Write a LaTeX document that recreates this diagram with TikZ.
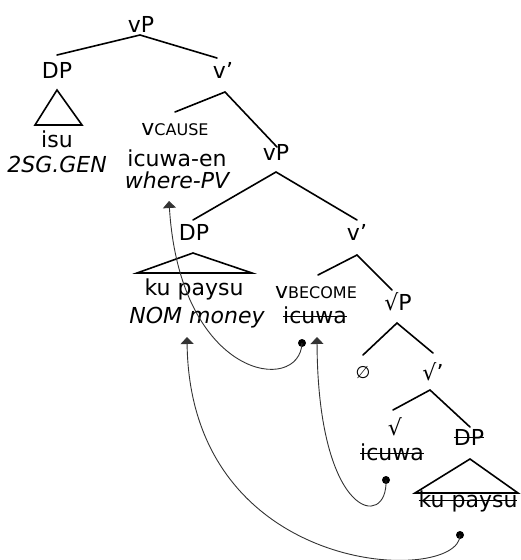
\documentclass[tikz,border=0pt]{standalone}
\usepackage{fontspec}
\setmainfont{DejaVu Sans}
\usetikzlibrary{arrows.meta}
\newcommand{\smcap}[1]{{\fontsize{16}{17}\selectfont #1}}
\newsavebox\strkbox
\newcommand{\strk}[2][0.27em]{\sbox\strkbox{#2}\rlap{\usebox\strkbox}\rule[#1]{\wd\strkbox}{1.2pt}}
\begin{document}
\begin{tikzpicture}[x=1pt,y=-1pt,
  lbl/.style={anchor=base,inner sep=0pt,font=\fontsize{22}{24}\selectfont},
  br/.style={line width=1.6pt,line cap=round},
  mv/.style={line width=0.9pt,draw=black!80,-{Triangle[width=13pt,length=7pt]}},
  dotm/.style={fill=black,circle,inner sep=0pt,minimum size=8pt}]
\useasboundingbox (0,0) rectangle (520,560);
% labels
\node[lbl] (vP1) at (141,32) {vP};
\node[lbl] (DP1) at (57,78) {DP};
\node[lbl] (vb1) at (223,78) {v'};
\node[lbl] (isu) at (57,147) {isu};
\node[lbl] (gen) at (57,172) {\itshape 2SG.GEN};
\node[lbl] (vcause) at (175,135) {v\smcap{CAUSE}};
\node[lbl] (icen) at (177,166) {icuwa-en};
\node[lbl] (where) at (177,188) {\itshape where-PV};
\node[lbl] (vP2) at (276,160) {vP};
\node[lbl] (DP2) at (194,240) {DP};
\node[lbl] (vb2) at (357,240) {v'};
\node[lbl] (kp1) at (194,295) {ku paysu};
\node[lbl] (nom) at (197,323) {\itshape NOM money};
\node[lbl] (vbec) at (316,298) {v\smcap{BECOME}};
\node[lbl] (ic1) at (315,323) {\strk{icuwa}};
\node[lbl] (rP) at (398,310) {√P};
\node[lbl,font=\fontsize{17}{20}\selectfont] (empty) at (363,378) {∅};
\node[lbl] (rb) at (433,380) {√'};
\node[lbl] (r) at (395,435) {√};
\node[lbl] (ic2) at (392,460) {\strk{icuwa}};
\node[lbl] (DP3) at (469,445) {\strk[0.33em]{DP}};
\node[lbl] (kp2) at (468,507) {\strk{ku paysu}};
% branch points
\coordinate (a1) at (140,35);  \coordinate (a1l) at (57,55);  \coordinate (a1r) at (217,58);
\coordinate (a2) at (225,92);  \coordinate (a2l) at (175,112); \coordinate (a2r) at (277,147);
\coordinate (a3) at (276,172); \coordinate (a3l) at (193,220); \coordinate (a3r) at (357,220);
\coordinate (a4) at (357,255); \coordinate (a4l) at (318,275); \coordinate (a4r) at (392,290);
\coordinate (a5) at (397,323); \coordinate (a5l) at (363,355); \coordinate (a5r) at (433,353);
\coordinate (a6) at (430,390); \coordinate (a6l) at (393,410); \coordinate (a6r) at (470,427);
\draw[br] (a1l) -- (a1) -- (a1r);
\draw[br] (a2l) -- (a2) -- (a2r);
\draw[br] (a3l) -- (a3) -- (a3r);
\draw[br] (a4l) -- (a4) -- (a4r);
\draw[br] (a5l) -- (a5) -- (a5r);
\draw[br] (a6l) -- (a6) -- (a6r);
% triangles
\coordinate (t1) at (57,90);  \coordinate (t1l) at (35,125); \coordinate (t1r) at (82,125);
\coordinate (t2) at (193,253); \coordinate (t2l) at (137,273); \coordinate (t2r) at (252,273);
\coordinate (t3) at (470,459); \coordinate (t3l) at (415,493); \coordinate (t3r) at (518,493);
\draw[br,line join=miter] (t1) -- (t1l) -- (t1r) -- cycle;
\draw[br,line join=miter] (t2) -- (t2l) -- (t2r) -- cycle;
\draw[br,line join=miter] (t3) -- (t3l) -- (t3r) -- cycle;
% movement
\node[dotm] (d1) at (302,343) {};
\node[dotm] (d2) at (386,480) {};
\node[dotm] (d3) at (460,535) {};
\coordinate (g1) at (169,201);
\coordinate (g2) at (317,337);
\coordinate (g3) at (187,337);
\draw[mv] (d1.center) .. controls (300,395) and (180,380) .. (g1);
\draw[mv] (d2.center) .. controls (388,530) and (318,520) .. (g2);
\draw[mv] (d3.center) .. controls (460,585) and (190,580) .. (g3);
\end{tikzpicture}
\end{document}
